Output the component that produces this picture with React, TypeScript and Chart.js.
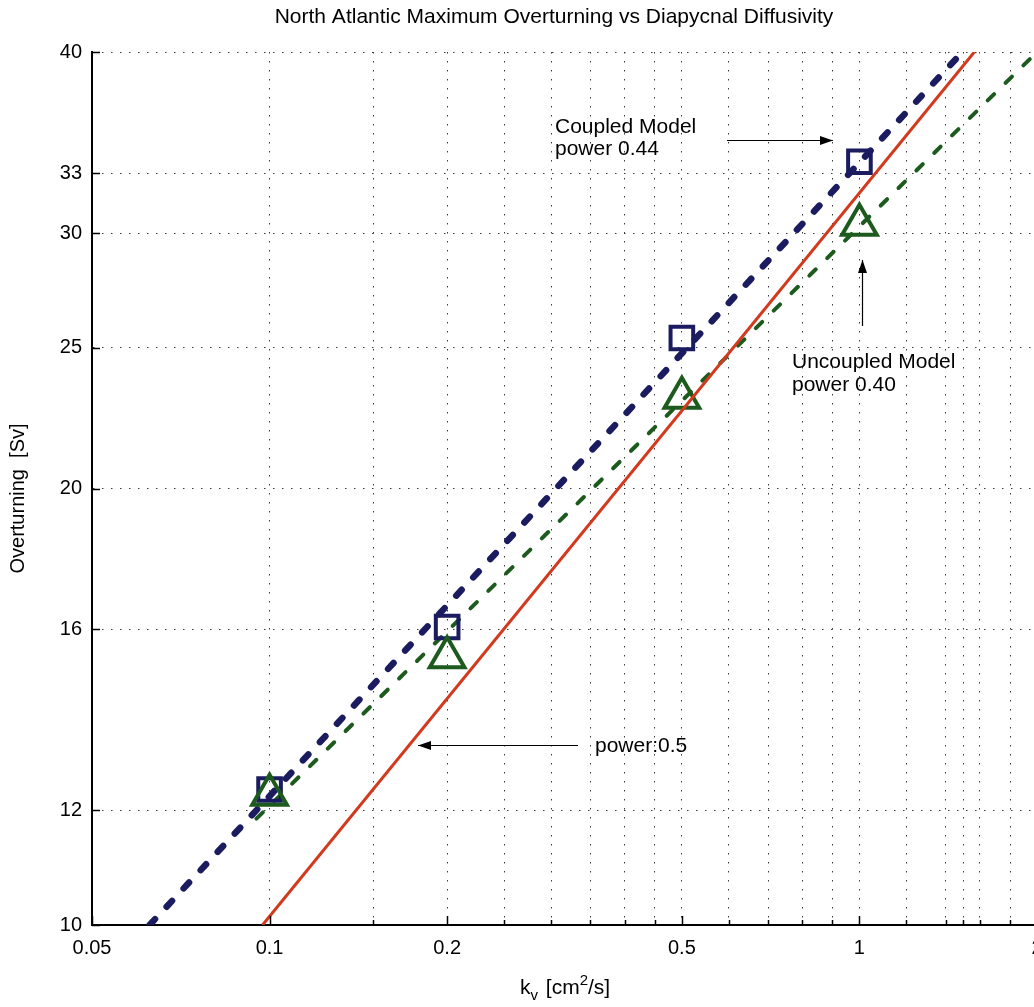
import React, { useEffect, useRef } from 'react';
import { Chart, registerables } from 'chart.js';

Chart.register(...registerables);

const FONT = '"Liberation Sans", Arial, Helvetica, sans-serif';

// ---- data ----
const kv = [0.1, 0.2, 0.5, 1];
const coupledSv = [12.4, 16.05, 25.4, 33.6];
const uncoupledSv = [12.3, 15.3, 23.1, 30.4];

const coupledFitKv = [0.0626, 1.495];
const coupledFitSv = [10, 40];
const uncoupledFitKv = [0.095, 2];
const uncoupledFitSv = [11.84, 40];
const halfPowerFitKv = [0.0973, 1.566];
const halfPowerFitSv = [10, 40];

const xTickValues = [0.05, 0.1, 0.15, 0.2, 0.25, 0.3, 0.35, 0.4, 0.45, 0.5, 0.6, 0.7, 0.8, 0.9, 1, 1.2, 1.4, 1.5, 1.6, 1.8, 2];
const xTickLabels = [0.05, 0.1, 0.2, 0.5, 1, 2];
const yTickValues = [10, 12, 16, 20, 25, 30, 33, 40];

const TITLE = 'North Atlantic Maximum Overturning vs Diapycnal Diffusivity';
const Y_TITLE = 'Overturning  [Sv]';

const NAVY = '#1b1b60';
const GREEN = '#1d5a1d';
const RED = '#d23a1e';

const CANVAS_W = 1040;
const CANVAS_H = 1007;

const pts = (xs: number[], ys: number[]) => xs.map((x, i) => ({ x, y: ys[i] }));

function arrow(ctx: CanvasRenderingContext2D, x1: number, y1: number, x2: number, y2: number) {
  ctx.beginPath();
  ctx.moveTo(x1, y1);
  ctx.lineTo(x2, y2);
  ctx.stroke();
  const a = Math.atan2(y2 - y1, x2 - x1);
  const L = 13, W = 4.5;
  ctx.beginPath();
  ctx.moveTo(x2, y2);
  ctx.lineTo(x2 - L * Math.cos(a) + W * Math.sin(a), y2 - L * Math.sin(a) - W * Math.cos(a));
  ctx.lineTo(x2 - L * Math.cos(a) - W * Math.sin(a), y2 - L * Math.sin(a) + W * Math.cos(a));
  ctx.closePath();
  ctx.fill();
}

const decorations = {
  id: 'decorations',
  afterDraw(chart: any) {
    const ctx: CanvasRenderingContext2D = chart.ctx;
    const { left, top, bottom } = chart.chartArea;
    const xs = chart.scales.x;
    const ys = chart.scales.y;
    ctx.save();
    // inward tick marks
    ctx.strokeStyle = '#000';
    ctx.lineWidth = 1.5;
    for (const v of xTickValues) {
      const px = Math.round(xs.getPixelForValue(v)) + 0.5;
      const len = xTickLabels.includes(v) ? 9 : 5;
      ctx.beginPath();
      ctx.moveTo(px, bottom);
      ctx.lineTo(px, bottom - len);
      ctx.stroke();
    }
    for (const v of yTickValues) {
      const py = Math.round(ys.getPixelForValue(v)) + 0.5;
      ctx.beginPath();
      ctx.moveTo(left, py);
      ctx.lineTo(left + 8, py);
      ctx.stroke();
    }

    ctx.fillStyle = '#000';
    // title
    ctx.font = `21px ${FONT}`;
    ctx.textAlign = 'center';
    ctx.textBaseline = 'middle';
    ctx.fillText(TITLE, 554, 17);

    // y axis title
    ctx.save();
    ctx.font = `20px ${FONT}`;
    ctx.translate(18, (top + bottom) / 2 + 10);
    ctx.rotate(-Math.PI / 2);
    ctx.fillText(Y_TITLE, 0, 0);
    ctx.restore();

    // x axis title: k_v [cm^2/s]
    ctx.textAlign = 'left';
    ctx.textBaseline = 'alphabetic';
    const base = 994;
    let x = 520;
    ctx.font = `21px ${FONT}`;
    ctx.fillText('k', x, base);
    x += ctx.measureText('k').width;
    ctx.font = `15px ${FONT}`;
    ctx.fillText('v', x, base + 6);
    x += ctx.measureText('v').width + 2;
    ctx.font = `21px ${FONT}`;
    ctx.fillText(' [cm', x, base);
    x += ctx.measureText(' [cm').width;
    ctx.font = `15px ${FONT}`;
    ctx.fillText('2', x, base - 9);
    x += ctx.measureText('2').width;
    ctx.font = `21px ${FONT}`;
    ctx.fillText('/s]', x, base);

    // annotations
    ctx.font = `21px ${FONT}`;
    ctx.textBaseline = 'middle';
    ctx.fillText('Coupled Model', 555, 127);
    ctx.fillText('power 0.44', 555, 149);
    ctx.fillText('Uncoupled Model', 792, 362);
    ctx.fillText('power 0.40', 792, 385);
    ctx.fillText('power:0.5', 595, 746);

    ctx.lineWidth = 1.2;
    arrow(ctx, 727, 140.5, 833, 140.5);
    arrow(ctx, 862.5, 326, 862.5, 260);
    arrow(ctx, 578, 745.5, 418, 745.5);
    ctx.restore();
  },
};

export default function App() {
  const ref = useRef<HTMLCanvasElement>(null);

  useEffect(() => {
    if (!ref.current) return;
    const chart = new Chart(ref.current, {
      type: 'scatter',
      data: {
        datasets: [
          {
            label: 'power 0.5',
            data: pts(halfPowerFitKv, halfPowerFitSv),
            showLine: true,
            borderColor: RED,
            borderWidth: 3,
            pointRadius: 0,
          },
          {
            label: 'Uncoupled Model',
            data: pts(kv, uncoupledSv),
            showLine: false,
            pointStyle: 'triangle',
            pointRadius: 20,
            pointBorderWidth: 4,
            borderColor: GREEN,
            backgroundColor: 'rgba(0,0,0,0)',
          },
          {
            label: 'Coupled Model',
            data: pts(kv, coupledSv),
            showLine: false,
            pointStyle: 'rect',
            pointRadius: 16,
            pointBorderWidth: 4,
            borderColor: NAVY,
            backgroundColor: 'rgba(0,0,0,0)',
          },
          {
            label: 'Uncoupled fit (power 0.40)',
            data: pts(uncoupledFitKv, uncoupledFitSv),
            showLine: true,
            borderColor: GREEN,
            borderWidth: 4,
            borderDash: [9, 16],
            borderCapStyle: 'round',
            pointRadius: 0,
          },
          {
            label: 'Coupled fit (power 0.44)',
            data: pts(coupledFitKv, coupledFitSv),
            showLine: true,
            borderColor: NAVY,
            borderWidth: 6.5,
            borderDash: [8, 17],
            borderCapStyle: 'round',
            pointRadius: 0,
          },
        ],
      },
      options: {
        animation: false,
        responsive: false,
        events: [],
        layout: { autoPadding: false, padding: { left: 0, top: 52, right: 3, bottom: 0 } },
        plugins: {
          legend: { display: false },
          tooltip: { enabled: false },
          title: { display: false },
        },
        scales: {
          x: {
            type: 'logarithmic',
            min: 0.05,
            max: 2,
            afterBuildTicks: (scale: any) => {
              scale.ticks = xTickValues.map((v) => ({ value: v }));
            },
            afterFit: (scale: any) => {
              scale.height = CANVAS_H - 925;
              scale.paddingLeft = 0;
              scale.paddingRight = 0;
            },
            ticks: {
              autoSkip: false,
              maxRotation: 0,
              minRotation: 0,
              padding: 11,
              color: '#000',
              font: { family: FONT, size: 20 },
              callback: (v: any) => (xTickLabels.includes(Number(v)) ? String(Number(v)) : ''),
            },
            grid: { color: '#3a3a3a', lineWidth: 1, drawTicks: false },
            border: { display: true, color: '#000', width: 2, dash: [1.5, 7.5] },
          },
          y: {
            type: 'logarithmic',
            min: 10,
            max: 40,
            afterBuildTicks: (scale: any) => {
              scale.ticks = yTickValues.map((v) => ({ value: v }));
            },
            afterFit: (scale: any) => {
              scale.width = 92;
              scale.paddingTop = 0;
              scale.paddingBottom = 0;
            },
            ticks: {
              autoSkip: false,
              padding: 10,
              color: '#000',
              font: { family: FONT, size: 20 },
              callback: (v: any) => String(Number(v)),
            },
            grid: { color: '#3a3a3a', lineWidth: 1, drawTicks: false },
            border: { display: true, color: '#000', width: 2, dash: [1.5, 7.5] },
          },
        },
      },
      plugins: [decorations],
    });
    return () => chart.destroy();
  }, []);

  return (
    <div
      style={{
        position: 'fixed',
        left: 0,
        top: 0,
        width: 1034,
        height: 1007,
        overflow: 'hidden',
        background: '#fff',
      }}
    >
      <canvas ref={ref} width={CANVAS_W} height={CANVAS_H} style={{ display: 'block' }} />
    </div>
  );
}
